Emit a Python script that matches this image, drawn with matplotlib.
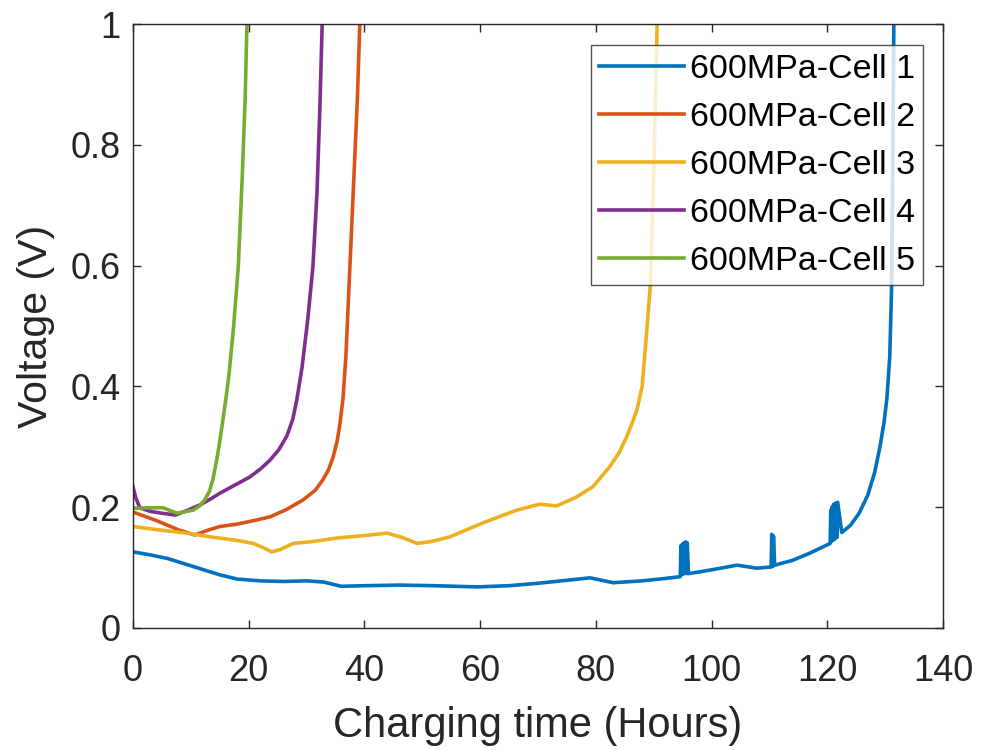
import matplotlib.pyplot as plt

plt.rcParams['font.family'] = ['Liberation Sans', 'DejaVu Sans']

# Cell 1 (blue) - hours / volts, including the short spikes
t1 = [0, 3, 6, 9, 12, 15, 18, 22, 26, 30, 33, 36, 40, 46, 52, 59.5, 65, 70, 75, 79, 83, 88, 92, 94.6,
      94.7, 94.8, 94.9, 95.0, 95.1, 95.2, 95.4, 95.5, 95.6, 95.7, 95.8, 96.0,
      98, 101, 104.4, 107.8, 110.3, 110.4, 110.6, 110.7, 110.9, 114, 117, 120.5,
      120.6, 120.7, 120.8, 121.0, 121.1, 121.3, 121.5, 121.7, 121.8,
      122.5, 124, 125.5, 127, 128.2, 129.1, 129.8, 130.3, 130.8, 131.1, 131.3, 131.5]
v1 = [0.126, 0.121, 0.115, 0.106, 0.097, 0.088, 0.081, 0.078, 0.077, 0.078, 0.076, 0.069, 0.070, 0.071, 0.070, 0.068, 0.070, 0.074, 0.079, 0.083, 0.075, 0.078, 0.082, 0.085,
      0.136, 0.088, 0.138, 0.089, 0.140, 0.090, 0.142, 0.091, 0.142, 0.090, 0.141, 0.090,
      0.093, 0.098, 0.104, 0.099, 0.101, 0.155, 0.102, 0.152, 0.104, 0.112, 0.124, 0.140,
      0.195, 0.143, 0.200, 0.145, 0.205, 0.147, 0.207, 0.150, 0.208,
      0.158, 0.170, 0.190, 0.220, 0.258, 0.300, 0.340, 0.380, 0.450, 0.560, 0.750, 1.000]

# Cell 2 (orange)
t2 = [0, 2, 4, 6, 8, 10.7, 13, 15, 18, 21, 23.7, 26.5, 29.4, 31.5, 32.8, 33.8, 34.6, 35.3, 35.8, 36.3, 36.8, 37.5, 38.2, 38.8, 39.2]
v2 = [0.192, 0.185, 0.178, 0.170, 0.162, 0.154, 0.162, 0.168, 0.172, 0.178, 0.184, 0.196, 0.212, 0.228, 0.245, 0.262, 0.283, 0.310, 0.340, 0.380, 0.450, 0.600, 0.750, 0.880, 1.000]

# Cell 3 (yellow)
t3 = [0, 4, 9.3, 14, 18, 20.8, 22.5, 24, 25.5, 26.6, 27.7, 31, 35.3, 40, 43.9, 46.5, 49.1, 51.5, 54.8, 57.5, 60.5, 63.5, 66.3, 70.3, 73.2, 76.7,
      79.5, 82.4, 84, 85.3, 86.3, 87.1, 88.0, 88.7, 89.4, 90.0, 90.6]
v3 = [0.168, 0.163, 0.157, 0.150, 0.145, 0.140, 0.133, 0.126, 0.130, 0.135, 0.140, 0.143, 0.149, 0.153, 0.157, 0.150, 0.140, 0.143, 0.151, 0.162, 0.174, 0.185, 0.195, 0.205, 0.202, 0.217,
      0.234, 0.267, 0.290, 0.316, 0.340, 0.361, 0.400, 0.480, 0.565, 0.750, 1.000]

# Cell 4 (purple)
t4 = [0, 0.5, 1.2, 3, 5, 7.3, 9.5, 11.6, 13.5, 15, 17.5, 20.2, 22, 23.7, 25.2, 26.6, 27.6, 28.3, 29.2, 30.2, 31.1, 31.8, 32.3, 32.7]
v4 = [0.234, 0.215, 0.199, 0.193, 0.190, 0.187, 0.195, 0.204, 0.214, 0.223, 0.236, 0.250, 0.263, 0.278, 0.295, 0.318, 0.345, 0.377, 0.430, 0.510, 0.598, 0.720, 0.860, 1.000]

# Cell 5 (green)
t5 = [0, 2.5, 5.2, 7.6, 10.4, 11.5, 12.4, 13.2, 13.8, 14.6, 15.3, 16.0, 16.6, 17.4, 18.2, 18.9, 19.4, 19.7]
v5 = [0.198, 0.199, 0.199, 0.190, 0.195, 0.202, 0.212, 0.226, 0.245, 0.285, 0.328, 0.375, 0.420, 0.500, 0.598, 0.750, 0.880, 1.000]

labels = ['600MPa-Cell 1', '600MPa-Cell 2', '600MPa-Cell 3', '600MPa-Cell 4', '600MPa-Cell 5']
colors = ['#0072BD', '#D95319', '#EDB120', '#7E2F8E', '#77AC30']

fig = plt.figure(figsize=(9.82, 7.5), dpi=100)
ax = fig.add_axes([0.1354, 0.1627, 0.8249, 0.8053])

for t, v, lab, c in zip([t1, t2, t3, t4, t5], [v1, v2, v3, v4, v5], labels, colors):
    ax.plot(t, v, color=c, lw=2.6, label=lab)

ax.set_xlim(0, 140)
ax.set_ylim(0, 1)
ax.set_xticks(range(0, 141, 20))
ax.set_yticks([0, 0.2, 0.4, 0.6, 0.8, 1])
ax.set_yticklabels(['0', '0.2', '0.4', '0.6', '0.8', '1'])

ax.tick_params(direction='in', top=True, right=True, length=6, width=1,
               labelsize=26, colors='#262626')
ax.tick_params(axis='x', pad=19)
ax.tick_params(axis='y', pad=9)
for s in ax.spines.values():
    s.set_color('#262626')
    s.set_linewidth(1)

ax.set_xlabel('Charging time (Hours)', fontsize=30, color='#262626', labelpad=12)
ax.set_ylabel('Voltage (V)', fontsize=29.5, color='#262626', labelpad=11)

leg = ax.legend(loc='upper right', bbox_to_anchor=(0.9755, 0.965), fontsize=24.5,
                frameon=True, fancybox=False, edgecolor='#262626',
                handlelength=2.5, handletextpad=0.15, borderpad=0.25,
                labelspacing=0.5, borderaxespad=0)
leg.get_frame().set_linewidth(1)

fig.savefig('out.png', dpi=100)
